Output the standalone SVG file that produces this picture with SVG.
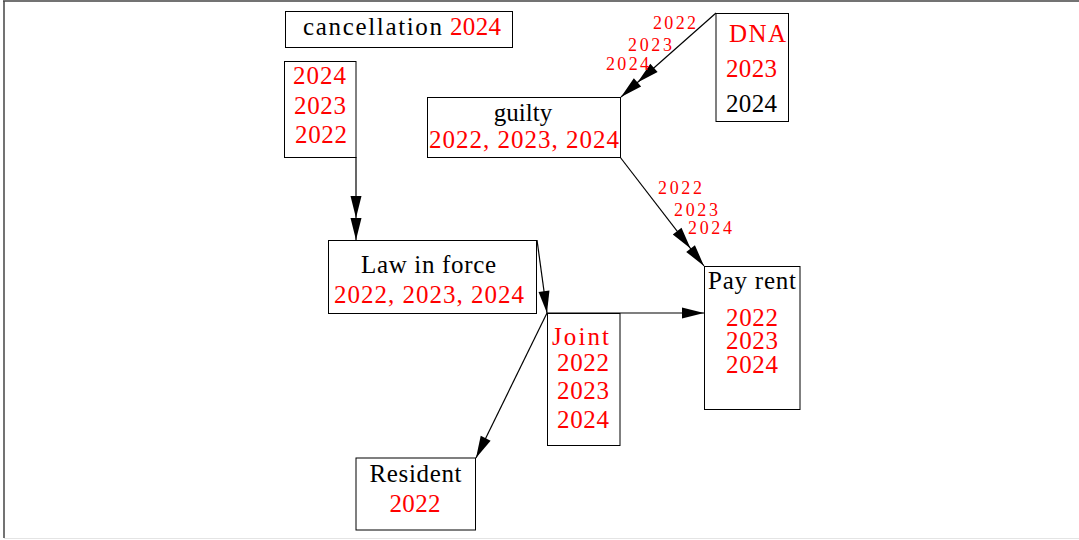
<svg xmlns="http://www.w3.org/2000/svg" width="1079" height="540" viewBox="0 0 1079 540">
<style>
  .box { fill: #ffffff; stroke: #000000; stroke-width: 1; }
  .t { font-family: "Liberation Serif", "DejaVu Serif", serif; font-size: 25px; fill: #000000; }
  .r { fill: #ff0000; }
  .s { font-family: "Liberation Serif", "DejaVu Serif", serif; font-size: 18px; fill: #ff0000; }
  .edge { fill: none; stroke: #000000; stroke-width: 1.2; }
</style>
<defs>
  <marker id="a1" markerUnits="userSpaceOnUse" markerWidth="30" markerHeight="16" viewBox="-24 -8 26 16" refX="0" refY="0" orient="auto" overflow="visible">
    <path d="M0,0 L-22,-5.5 L-22,5.5 Z" fill="#000"/>
  </marker>
  <marker id="a2" markerUnits="userSpaceOnUse" markerWidth="50" markerHeight="16" viewBox="-46 -8 48 16" refX="0" refY="0" orient="auto" overflow="visible">
    <path d="M0,0 L-22,-5.5 L-22,5.5 Z M-22,0 L-44,-5.5 L-44,5.5 Z" fill="#000"/>
  </marker>
</defs>
<rect x="0" y="0" width="1079" height="540" fill="#ffffff"/>
<g id="frame">
  <line x1="3" y1="1" x2="1079" y2="1" stroke="#444" stroke-width="1.5"/>
  <line x1="4" y1="1" x2="4" y2="538" stroke="#444" stroke-width="1.5"/>
  <line x1="4" y1="538.5" x2="1079" y2="538.5" stroke="#e4e4e4" stroke-width="1"/>
</g>
<g id="connectors">
  <line class="edge" x1="356" y1="157" x2="356" y2="240" marker-end="url(#a2)"/>
  <line class="edge" x1="716" y1="13" x2="621" y2="97" marker-end="url(#a2)"/>
  <line class="edge" x1="620" y1="157" x2="704" y2="266" marker-end="url(#a2)"/>
  <line class="edge" x1="537" y1="240" x2="547" y2="313" marker-end="url(#a1)"/>
  <line class="edge" x1="547" y1="313" x2="704" y2="313" marker-end="url(#a1)"/>
  <line class="edge" x1="547" y1="313" x2="476" y2="458" marker-end="url(#a1)"/>
  <text class="s" x="653" y="29" textLength="43">2022</text>
  <text class="s" x="628" y="50.5" textLength="44">2023</text>
  <text class="s" x="606" y="70" textLength="43">2024</text>
  <text class="s" x="658" y="194" textLength="44">2022</text>
  <text class="s" x="674" y="216" textLength="44">2023</text>
  <text class="s" x="688" y="234" textLength="44">2024</text>
</g>
<g id="cancellation">
  <rect class="box" x="285.5" y="11.5" width="227" height="36"/>
  <text class="t" x="303" y="35" textLength="139">cancellation</text>
  <text class="t r" x="450" y="35" textLength="51">2024</text>
</g>
<g id="years">
  <rect class="box" x="284.5" y="61.5" width="71.5" height="96"/>
  <text class="t r" x="293" y="84" textLength="53">2024</text>
  <text class="t r" x="294" y="114" textLength="52">2023</text>
  <text class="t r" x="295" y="143" textLength="52">2022</text>
</g>
<g id="guilty">
  <rect class="box" x="427.5" y="97.5" width="193" height="60"/>
  <text class="t" x="523" y="121" text-anchor="middle">guilty</text>
  <text class="t r" x="429" y="148" textLength="190">2022, 2023, 2024</text>
</g>
<g id="dna">
  <rect class="box" x="716" y="13.5" width="72.5" height="108"/>
  <text class="t r" x="729" y="42" textLength="57">DNA</text>
  <text class="t r" x="726" y="77" textLength="51">2023</text>
  <text class="t" x="726" y="111.5" textLength="51">2024</text>
</g>
<g id="law">
  <rect class="box" x="328.5" y="240.5" width="208" height="73"/>
  <text class="t" x="361" y="273" textLength="135">Law in force</text>
  <text class="t r" x="334" y="302.5" textLength="190">2022, 2023, 2024</text>
</g>
<g id="joint">
  <rect class="box" x="547.5" y="313.5" width="72.5" height="132"/>
  <text class="t r" x="552" y="345" textLength="57">Joint</text>
  <text class="t r" x="557" y="370.5" textLength="52">2022</text>
  <text class="t r" x="557" y="399" textLength="52">2023</text>
  <text class="t r" x="557" y="427.5" textLength="52">2024</text>
</g>
<g id="payrent">
  <rect class="box" x="704.5" y="266.5" width="95.5" height="143"/>
  <text class="t" x="708" y="289" textLength="88">Pay rent</text>
  <text class="t r" x="726" y="325.5" textLength="52">2022</text>
  <text class="t r" x="726" y="349" textLength="52">2023</text>
  <text class="t r" x="726" y="372.5" textLength="52">2024</text>
</g>
<g id="resident">
  <rect class="box" x="356" y="458" width="119.5" height="72"/>
  <text class="t" x="369.5" y="481.5" textLength="92">Resident</text>
  <text class="t r" x="389.5" y="511.5" textLength="51">2022</text>
</g>
</svg>
